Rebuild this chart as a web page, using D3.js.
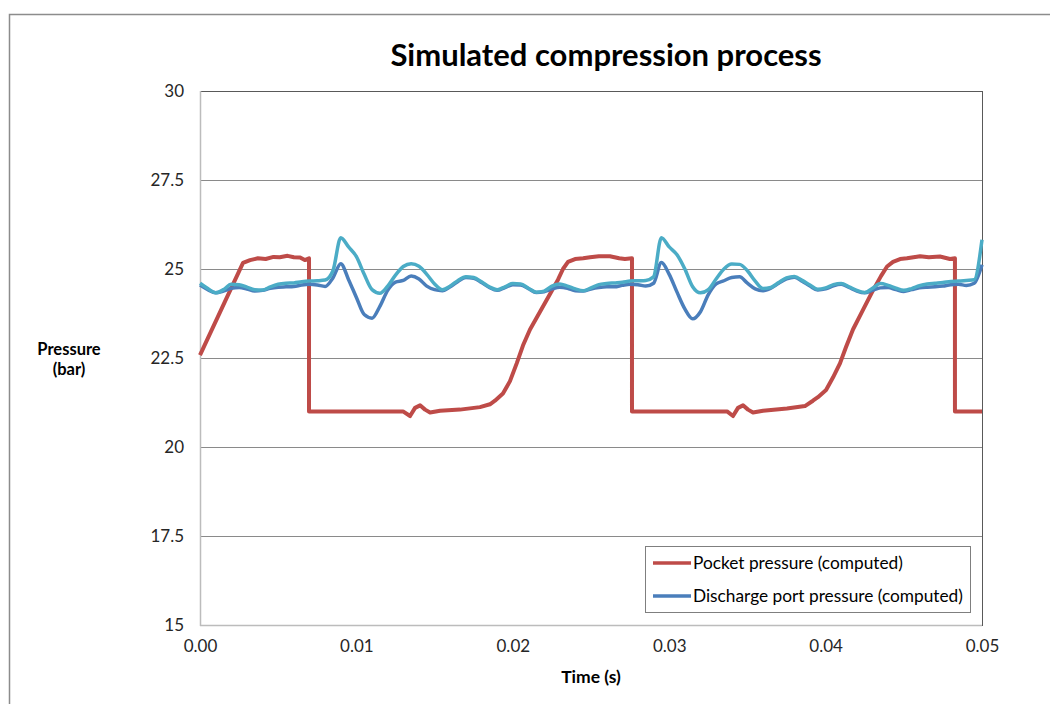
<!DOCTYPE html>
<html>
<head>
<meta charset="utf-8">
<script src="https://cdn.jsdelivr.net/npm/d3@7"></script>
<style>
  body { margin: 0; background: #fff; }
  svg { display: block; font-family: Lato, "Open Sans", sans-serif; }
</style>
</head>
<body>
<div id="chart"></div>
<script>
// --- DATA --- //
// pocket pressure (bar) vs time (s); repeated times are the vertical drops
var pocketTime = [0, 0.0014, 0.00275, 0.0032, 0.0037, 0.0042, 0.0047, 0.0051, 0.0056, 0.006, 0.0064, 0.0067, 0.00697,
	0.00697, 0.0100, 0.01298, 0.01343, 0.01375, 0.01407, 0.01439, 0.01471, 0.01535, 0.01662, 0.0179, 0.01854,
	0.01886, 0.01937, 0.01982, 0.02025, 0.02065, 0.0211, 0.02174, 0.02238, 0.02289, 0.02321, 0.02353, 0.02398,
	0.0245, 0.02494, 0.0255, 0.02621, 0.0268, 0.02717, 0.02762,
	0.02762, 0.0300, 0.0337, 0.03408, 0.0344, 0.03472, 0.03504, 0.03536, 0.036, 0.03753, 0.03868,
	0.03919, 0.03951, 0.04003, 0.04047, 0.04092, 0.0413, 0.04175, 0.04239, 0.04303, 0.04354, 0.04393, 0.04431, 0.04476,
	0.0452, 0.04604, 0.0466, 0.04731, 0.04795, 0.04827,
	0.04827, 0.05];
var pocketPressure = [22.58, 23.9, 25.17, 25.25, 25.3, 25.28, 25.34, 25.33, 25.37, 25.33, 25.32, 25.25, 25.3,
	21.0, 21.0, 21.0, 20.87, 21.1, 21.17, 21.05, 20.97, 21.02, 21.05, 21.12, 21.2,
	21.3, 21.5, 21.85, 22.35, 22.85, 23.3, 23.8, 24.3, 24.7, 25.0, 25.2, 25.28,
	25.3, 25.33, 25.36, 25.36, 25.3, 25.28, 25.3,
	21.0, 21.0, 21.0, 20.87, 21.1, 21.17, 21.05, 20.97, 21.02, 21.08, 21.15,
	21.3, 21.4, 21.6, 21.95, 22.35, 22.8, 23.3, 23.85, 24.4, 24.8, 25.07, 25.2, 25.28,
	25.3, 25.36, 25.33, 25.35, 25.28, 25.3,
	21.0, 21.0];

// discharge port pressure (bar), sampled every 0.0005 s from 0 to 0.05 s
var sampleTime = d3.range(101).map(function(i) { return i * 0.0005; });
var dischargePressure = [
	24.55, 24.42, 24.33, 24.38, 24.46, 24.48, 24.44, 24.38, 24.40, 24.46,
	24.49, 24.50, 24.51, 24.55, 24.57, 24.55, 24.51, 24.75, 25.15, 24.70,
	24.20, 23.72, 23.62, 23.95, 24.40, 24.63, 24.68, 24.80, 24.72, 24.52,
	24.42, 24.39, 24.50, 24.65, 24.76, 24.74, 24.62, 24.48, 24.40, 24.48,
	24.56, 24.55, 24.45, 24.34, 24.36, 24.44, 24.49, 24.46, 24.39, 24.38,
	24.44, 24.48, 24.50, 24.50, 24.54, 24.57, 24.56, 24.52, 24.60, 25.18,
	24.85, 24.35, 23.88, 23.60, 23.80, 24.28, 24.58, 24.67, 24.76, 24.78,
	24.60, 24.44, 24.39, 24.46, 24.60, 24.72, 24.77, 24.66, 24.52, 24.41,
	24.44, 24.53, 24.57, 24.48, 24.38, 24.33, 24.40, 24.47, 24.48, 24.42,
	24.37, 24.42, 24.47, 24.49, 24.50, 24.52, 24.56, 24.57, 24.54, 24.60,
	25.12];
// second (unlabelled) discharge trace
var dischargePressure2 = [
	24.60, 24.45, 24.33, 24.42, 24.57, 24.56, 24.49, 24.42, 24.41, 24.50,
	24.57, 24.60, 24.61, 24.64, 24.66, 24.67, 24.69, 24.95, 25.88, 25.62,
	25.35, 24.85, 24.42, 24.32, 24.52, 24.83, 25.07, 25.15, 25.08, 24.85,
	24.58, 24.42, 24.52, 24.68, 24.78, 24.76, 24.64, 24.50, 24.42, 24.50,
	24.59, 24.58, 24.46, 24.35, 24.38, 24.52, 24.58, 24.52, 24.44, 24.39,
	24.47, 24.56, 24.59, 24.61, 24.63, 24.66, 24.67, 24.68, 24.78, 25.88,
	25.62, 25.40, 25.00, 24.50, 24.33, 24.42, 24.72, 25.00, 25.14, 25.13,
	24.95, 24.66, 24.45, 24.48, 24.62, 24.75, 24.79, 24.68, 24.55, 24.43,
	24.47, 24.56, 24.59, 24.50, 24.40, 24.34, 24.46, 24.59, 24.54, 24.46,
	24.40, 24.45, 24.53, 24.58, 24.60, 24.62, 24.65, 24.66, 24.68, 24.70,
	25.82];

var xTicks = [0, 0.01, 0.02, 0.03, 0.04, 0.05];
var yTicks = [15, 17.5, 20, 22.5, 25, 27.5, 30];
var legendLabels = ["Pocket pressure (computed)", "Discharge port pressure (computed)"];

// --- CHART --- //
var width = 1050, height = 704,
	plot = { left: 200, right: 982, top: 91, bottom: 625 },
	red = "#be4b48", blue = "#4a7ebb", cyan = "#4bacc6";

var svg = d3.select("#chart").append("svg")
	.attr("width", width)
	.attr("height", height);

// outer chart border
svg.append("rect")
	.attr("x", 9.5).attr("y", 14.5)
	.attr("width", 1100).attr("height", 800)
	.attr("fill", "none").attr("stroke", "#8c8c8c").attr("stroke-width", 1.5);

var x = d3.scaleLinear().domain([0, 0.05]).range([plot.left, plot.right]);
var y = d3.scaleLinear().domain([15, 30]).range([plot.bottom, plot.top]);

// gridlines
svg.append("g").selectAll("line").data(yTicks).enter().append("line")
	.attr("x1", plot.left).attr("x2", plot.right)
	.attr("y1", function(d) { return Math.round(y(d)) + 0.5; })
	.attr("y2", function(d) { return Math.round(y(d)) + 0.5; })
	.attr("stroke", "#8a8a8a").attr("stroke-width", 1);

// plot area border (top & right darker)
svg.append("rect")
	.attr("x", plot.left + 0.5).attr("y", plot.top + 0.5)
	.attr("width", plot.right - plot.left).attr("height", plot.bottom - plot.top)
	.attr("fill", "none").attr("stroke", "#595959").attr("stroke-width", 1);

// axes lines (light gray)
svg.append("line")
	.attr("x1", plot.left + 0.5).attr("x2", plot.left + 0.5)
	.attr("y1", plot.top).attr("y2", plot.bottom + 1)
	.attr("stroke", "#bcbcbc").attr("stroke-width", 1.5);
svg.append("line")
	.attr("x1", plot.left).attr("x2", plot.right)
	.attr("y1", plot.bottom + 0.5).attr("y2", plot.bottom + 0.5)
	.attr("stroke", "#bcbcbc").attr("stroke-width", 1.5);

// axes via d3.axis, with the domain and tick marks hidden
var yAxis = svg.append("g")
	.attr("transform", "translate(" + plot.left + ",0)")
	.call(d3.axisLeft(y).tickValues(yTicks).tickSize(0).tickPadding(16).tickFormat(d3.format("")));
var xAxis = svg.append("g")
	.attr("transform", "translate(0," + plot.bottom + ")")
	.call(d3.axisBottom(x).tickValues(xTicks).tickSize(0).tickPadding(15).tickFormat(d3.format(".2f")));
[yAxis, xAxis].forEach(function(a) {
	a.select(".domain").remove();
	a.selectAll("text")
		.attr("font-family", "Lato, 'Open Sans', sans-serif")
		.attr("font-size", 17)
		.attr("fill", "#262626");
});

// series
var pocketLine = d3.line()
	.x(function(d) { return x(d[0]); })
	.y(function(d) { return y(d[1]); });
var portLine = d3.line()
	.x(function(d) { return x(d[0]); })
	.y(function(d) { return y(d[1]); })
	.curve(d3.curveMonotoneX);

svg.append("path")
	.datum(d3.zip(pocketTime, pocketPressure))
	.attr("d", pocketLine)
	.attr("fill", "none").attr("stroke", red).attr("stroke-width", 4)
	.attr("stroke-linejoin", "round");
svg.append("path")
	.datum(d3.zip(sampleTime, dischargePressure))
	.attr("d", portLine)
	.attr("fill", "none").attr("stroke", blue).attr("stroke-width", 3.5)
	.attr("stroke-linejoin", "round");
svg.append("path")
	.datum(d3.zip(sampleTime, dischargePressure2))
	.attr("d", portLine)
	.attr("fill", "none").attr("stroke", cyan).attr("stroke-width", 3.5)
	.attr("stroke-linejoin", "round");

// title & axis titles
svg.append("text")
	.attr("x", 606).attr("y", 66)
	.attr("text-anchor", "middle")
	.attr("font-size", 31).attr("font-weight", "bold").attr("fill", "#000")
	.text("Simulated compression process");
var yTitle = svg.append("text")
	.attr("text-anchor", "middle")
	.attr("font-size", 16.5).attr("font-weight", "bold").attr("fill", "#000");
yTitle.append("tspan").attr("x", 69).attr("y", 355).text("Pressure");
yTitle.append("tspan").attr("x", 69).attr("y", 375).text("(bar)");
svg.append("text")
	.attr("x", 591).attr("y", 683)
	.attr("text-anchor", "middle")
	.attr("font-size", 17.5).attr("font-weight", "bold").attr("fill", "#000")
	.text("Time (s)");

// legend
var legend = svg.append("g");
legend.append("rect")
	.attr("x", 645.5).attr("y", 546.5)
	.attr("width", 325).attr("height", 66)
	.attr("fill", "#fff").attr("stroke", "#7f7f7f").attr("stroke-width", 1);
var entries = legend.selectAll(".entry").data(legendLabels).enter().append("g")
	.attr("class", "entry")
	.attr("transform", function(d, i) { return "translate(653," + (563 + i * 33) + ")"; });
entries.append("line")
	.attr("x1", 0).attr("x2", 38)
	.attr("stroke", function(d, i) { return i === 0 ? red : blue; })
	.attr("stroke-width", 3.5);
entries.append("text")
	.attr("x", 40).attr("dy", "0.35em")
	.attr("font-size", 17.3).attr("fill", "#000")
	.text(function(d) { return d; });
</script>
</body>
</html>
